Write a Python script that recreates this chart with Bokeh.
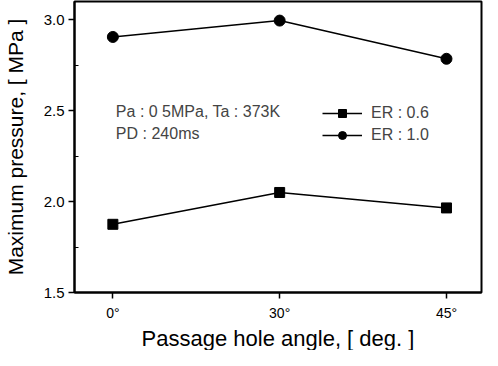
from bokeh.plotting import figure
from bokeh.models import Range1d, FixedTicker, Legend, LegendItem, Label, Title
from bokeh.embed import file_html
from bokeh.resources import INLINE

angles = ["0°", "30°", "45°"]
er06 = [1.875, 2.05, 1.965]
er10 = [2.905, 2.995, 2.785]
y_ticks = [1.5, 2.0, 2.5, 3.0]
y_minor = [1.75, 2.25, 2.75]
x_title = "Passage hole angle, [ deg. ]"
y_title = "Maximum pressure, [ MPa ]"

xpos = list(range(1, len(angles) + 1))
FONT = "Liberation Sans"

p = figure(width=484, height=350, output_backend="svg", toolbar_location=None,
           x_range=Range1d(0.77, 3.21), y_range=Range1d(1.5, 3.1),
           min_border_left=70, min_border_right=3, min_border_top=1, min_border_bottom=30)
p.background_fill_color = "white"
p.border_fill_color = "white"
p.outline_line_color = "black"
p.outline_line_width = 2
p.xgrid.visible = False
p.ygrid.visible = False

p.xaxis.ticker = FixedTicker(ticks=xpos)
p.xaxis.major_label_overrides = {x: a for x, a in zip(xpos, angles)}
p.yaxis.ticker = FixedTicker(ticks=y_ticks, minor_ticks=y_minor)
p.yaxis.major_label_overrides = {t: f"{t:.1f}" for t in y_ticks}

for ax in (p.xaxis[0], p.yaxis[0]):
    ax.axis_line_width = 2
    ax.major_tick_in = 0
    ax.major_tick_out = 6
    ax.major_tick_line_width = 1.5
    ax.minor_tick_in = 4
    ax.minor_tick_out = 0
    ax.major_label_text_font = FONT
    ax.major_label_text_color = "black"
    ax.axis_label_text_font = FONT
    ax.axis_label_text_font_style = "normal"
    ax.axis_label_text_color = "black"

p.yaxis.axis_label = y_title
p.xaxis.major_label_text_font_size = "14px"
p.yaxis.major_label_text_font_size = "15px"
p.yaxis.axis_label_text_font_size = "21px"
p.xaxis.major_label_standoff = 6
p.yaxis.major_label_standoff = 4
p.yaxis.axis_label_standoff = 14

p.add_layout(Title(text=x_title, align="center", text_font=FONT, text_font_size="22px",
                   text_font_style="normal", text_color="black", standoff=0, offset=0,
                   text_line_height=1.0),
             "below")

l1 = p.line(xpos, er06, line_color="black", line_width=1.5)
m1 = p.scatter(xpos, er06, marker="square", size=10, fill_color="black", line_color="black")
l2 = p.line(xpos, er10, line_color="black", line_width=1.5)
m2 = p.scatter(xpos, er10, marker="circle", size=11, fill_color="black", line_color="black")

legend = Legend(items=[LegendItem(label="ER : 0.6", renderers=[l1, m1]),
                       LegendItem(label="ER : 1.0", renderers=[l2, m2])],
                location=(248, 147), border_line_color=None, background_fill_alpha=0,
                label_text_font=FONT, label_text_font_size="16px",
                glyph_width=40, glyph_height=20, spacing=2, label_standoff=9,
                padding=0, margin=0)
p.add_layout(legend)

p.add_layout(Label(x=1.018, y=2.495, text="Pa : 0 5MPa, Ta : 373K", text_font=FONT,
                   text_font_size="16px", text_baseline="middle"))
p.add_layout(Label(x=1.018, y=2.373, text="PD : 240ms", text_font=FONT,
                   text_font_size="16px", text_baseline="middle"))

open("out.html", "w").write(file_html(p, INLINE))
